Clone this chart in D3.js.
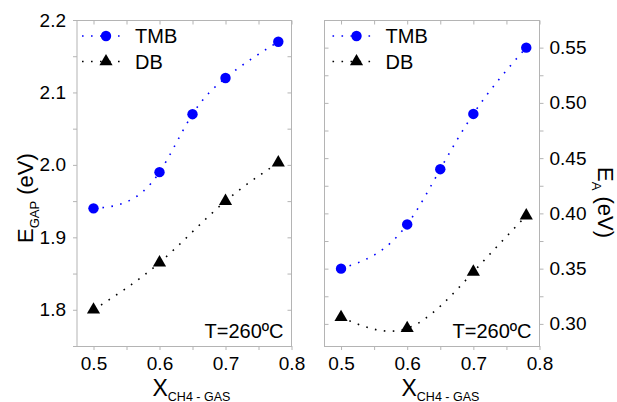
<!DOCTYPE html>
<head>
  <meta charset="utf-8">
  <script src="https://d3js.org/d3.v7.min.js"></script>
  <style>
    body { margin:0; background:#fff; }
    text { font-family: "Liberation Sans", Arial, sans-serif; fill:#000; }
  </style>
</head>
<body>
<script>

// values
var xTMB = [0.5, 0.6, 0.65, 0.7, 0.78];
var xDB = [0.5, 0.6, 0.7, 0.78];
var gapTMB = [1.94, 1.99, 2.07, 2.12, 2.17];
var gapDB = [1.80, 1.865, 1.95, 2.003];
var eaTMB = [0.35, 0.39, 0.44, 0.49, 0.55];
var eaDB = [0.306, 0.296, 0.347, 0.398];

var xTicks = [0.5, 0.6, 0.7, 0.8];
var xMinor = [0.55, 0.65, 0.75];
var gapTicks = [1.8, 1.9, 2.0, 2.1, 2.2];
var gapMinor = [1.75, 1.85, 1.95, 2.05, 2.15];
var eaTicks = [0.30, 0.35, 0.40, 0.45, 0.50, 0.55];
var eaMinor = [0.325, 0.375, 0.425, 0.475, 0.525];

var width = 617, height = 402;
var top_ = 20, bottom = 346;
var frameCol = "#b4b4b4";
var blue = "#0000ff";

var svg = d3.select("body").append("svg")
    .attr("width", width)
    .attr("height", height);

function zip(xs, ys) {
  return xs.map(function(d, i) { return [d, ys[i]]; });
}

// natural cubic spline y(x), like the origin "spline" connect mode.
// each piece is drawn as an exact bezier, no sampling
function SplineX(context) { this._context = context; }
SplineX.prototype = {
  areaStart: function() {}, areaEnd: function() {},
  lineStart: function() { this._x = []; this._y = []; },
  point: function(x, y) { this._x.push(+x); this._y.push(+y); },
  lineEnd: function() {
    var xs = this._x, ys = this._y, n = xs.length, c = this._context;
    if (!n) return;
    c.moveTo(xs[0], ys[0]);
    if (n < 3) { if (n == 2) c.lineTo(xs[1], ys[1]); return; }
    var h = [], s = [], i;
    for (i = 0; i < n - 1; i++) { h[i] = xs[i+1] - xs[i]; s[i] = (ys[i+1] - ys[i]) / h[i]; }
    // thomas solve for second derivatives, M0 = Mn-1 = 0
    var M = new Array(n).fill(0), cp = [], dp = [];
    for (i = 1; i < n - 1; i++) {
      var a = h[i-1], b = 2 * (h[i-1] + h[i]), cc = h[i], d = 6 * (s[i] - s[i-1]);
      if (i > 1) { b -= a * cp[i-1]; d -= a * dp[i-1]; }
      cp[i] = cc / b; dp[i] = d / b;
    }
    for (i = n - 2; i >= 1; i--) M[i] = dp[i] - (i < n - 2 ? cp[i] * M[i+1] : 0);
    var m = [];
    for (i = 0; i < n - 1; i++) m[i] = s[i] - h[i] * (2 * M[i] + M[i+1]) / 6;
    m[n-1] = s[n-2] + h[n-2] * (M[n-2] + 2 * M[n-1]) / 6;
    for (i = 0; i < n - 1; i++) {
      c.bezierCurveTo(xs[i] + h[i] / 3, ys[i] + m[i] * h[i] / 3,
                      xs[i+1] - h[i] / 3, ys[i+1] - m[i+1] * h[i] / 3,
                      xs[i+1], ys[i+1]);
    }
  }
};
function curveSplineX(context) { return new SplineX(context); }

function drawPanel(opt) {
  var x = d3.scaleLinear().domain([0.475, 0.8]).range([opt.x0, opt.x1]);
  var y = d3.scaleLinear().domain(opt.yDom).range([bottom, top_]);
  var g = svg.append("g");

  // frame
  g.append("rect")
    .attr("x", opt.x0).attr("y", top_ + 0.5)
    .attr("width", opt.x1 - opt.x0).attr("height", bottom - top_)
    .attr("fill", "none").attr("stroke", frameCol).attr("stroke-width", 1);

  function axis(gen, tx, ty, ticks, fmt, pad) {
    var a = g.append("g")
      .attr("transform", "translate(" + tx + "," + ty + ")")
      .call(gen.tickValues(ticks).tickSize(4).tickPadding(pad || 7)
        .tickFormat(fmt || function() { return ""; }));
    a.select(".domain").remove();
    a.selectAll("line").attr("stroke", frameCol);
    a.selectAll("text").style("font-size", "19px")
      .style("font-family", '"Liberation Sans", Arial, sans-serif');
    return a;
  }

  var xall = xTicks.concat(xMinor);
  var yall = opt.yTicks.concat(opt.yMinor);
  // bottom, outward with labels
  axis(d3.axisBottom(x), 0, bottom, xTicks, d3.format(".1f"));
  axis(d3.axisBottom(x), 0, bottom, xMinor);
  // top, inward
  axis(d3.axisBottom(x), 0, top_ + 0.5, xall);
  if (opt.side == "left") {
    axis(d3.axisLeft(y), opt.x0, 0, opt.yTicks, opt.fmt);
    axis(d3.axisLeft(y), opt.x0, 0, opt.yMinor);
    axis(d3.axisLeft(y), opt.x1, 0, yall);
  } else {
    axis(d3.axisRight(y), opt.x1, 0, opt.yTicks, opt.fmt, 6);
    axis(d3.axisRight(y), opt.x1, 0, opt.yMinor);
    axis(d3.axisRight(y), opt.x0, 0, yall);
  }

  var line = d3.line()
    .x(function(d) { return x(d[0]); })
    .y(function(d) { return y(d[1]); })
    .curve(curveSplineX);

  var series = [
    {pts: zip(xTMB, opt.tmb), col: blue, sym: d3.symbolCircle, size: 85},
    {pts: zip(xDB, opt.db), col: "#000", sym: d3.symbolTriangle, size: 75}
  ];
  series.forEach(function(s) {
    g.append("path")
      .datum(s.pts)
      .attr("fill", "none")
      .attr("stroke", s.col)
      .attr("stroke-width", 1.6)
      .attr("stroke-dasharray", "1.6,7.4")
      .attr("d", line);
    g.selectAll(null)
      .data(s.pts)
      .enter().append("path")
      .attr("transform", function(d) { return "translate(" + x(d[0]) + "," + y(d[1]) + ")"; })
      .attr("d", d3.symbol().type(s.sym).size(s.size))
      .attr("fill", s.col);
  });

  // legend
  var names = ["TMB", "DB"];
  series.forEach(function(s, i) {
    var ly = 36 + i * 25.5;
    var lx = opt.x0 + opt.legOff;
    g.append("line")
      .attr("x1", lx - 24).attr("x2", lx + 18)
      .attr("y1", ly).attr("y2", ly)
      .attr("stroke", s.col).attr("stroke-width", 1.6)
      .attr("stroke-dasharray", "1.6,7.4");
    g.append("path")
      .attr("transform", "translate(" + lx + "," + ly + ")")
      .attr("d", d3.symbol().type(s.sym).size(s.size))
      .attr("fill", s.col);
    g.append("text")
      .attr("x", lx + 29).attr("y", ly + 7)
      .style("font-size", "20px")
      .text(names[i]);
  });

  // temperature note
  g.append("text")
    .attr("x", opt.x1 - 8).attr("y", 338)
    .attr("text-anchor", "end")
    .style("font-size", "20px")
    .text("T=260\u00baC");

  // x title
  var xt = g.append("text")
    .attr("x", opt.xTitle).attr("y", 396)
    .style("font-size", "23px");
  xt.append("tspan").text("X");
  xt.append("tspan").attr("dy", 5).style("font-size", "12.5px").text("CH4 - GAS");

  // y title
  var yt = g.append("text")
    .attr("transform", opt.yTitleTf)
    .style("font-size", "22px");
  yt.append("tspan").text("E");
  yt.append("tspan").attr("dy", 6).style("font-size", "13px").text(opt.sub);
  yt.append("tspan").attr("dy", -6).text(" (eV)");
}

drawPanel({
  x0: 77, x1: 291.5, yDom: [1.75, 2.2], side: "left",
  yTicks: gapTicks, yMinor: gapMinor, fmt: d3.format(".1f"),
  tmb: gapTMB, db: gapDB, legOff: 29, xTitle: 152.5,
  yTitleTf: "translate(33,243) rotate(-90)", sub: "GAP"
});

drawPanel({
  x0: 324.5, x1: 539.5, yDom: [0.28, 0.575], side: "right",
  yTicks: eaTicks, yMinor: eaMinor, fmt: d3.format(".2f"),
  tmb: eaTMB, db: eaDB, legOff: 32, xTitle: 401.5,
  yTitleTf: "translate(598,167) rotate(90)", sub: "A"
});

</script>
</body>
